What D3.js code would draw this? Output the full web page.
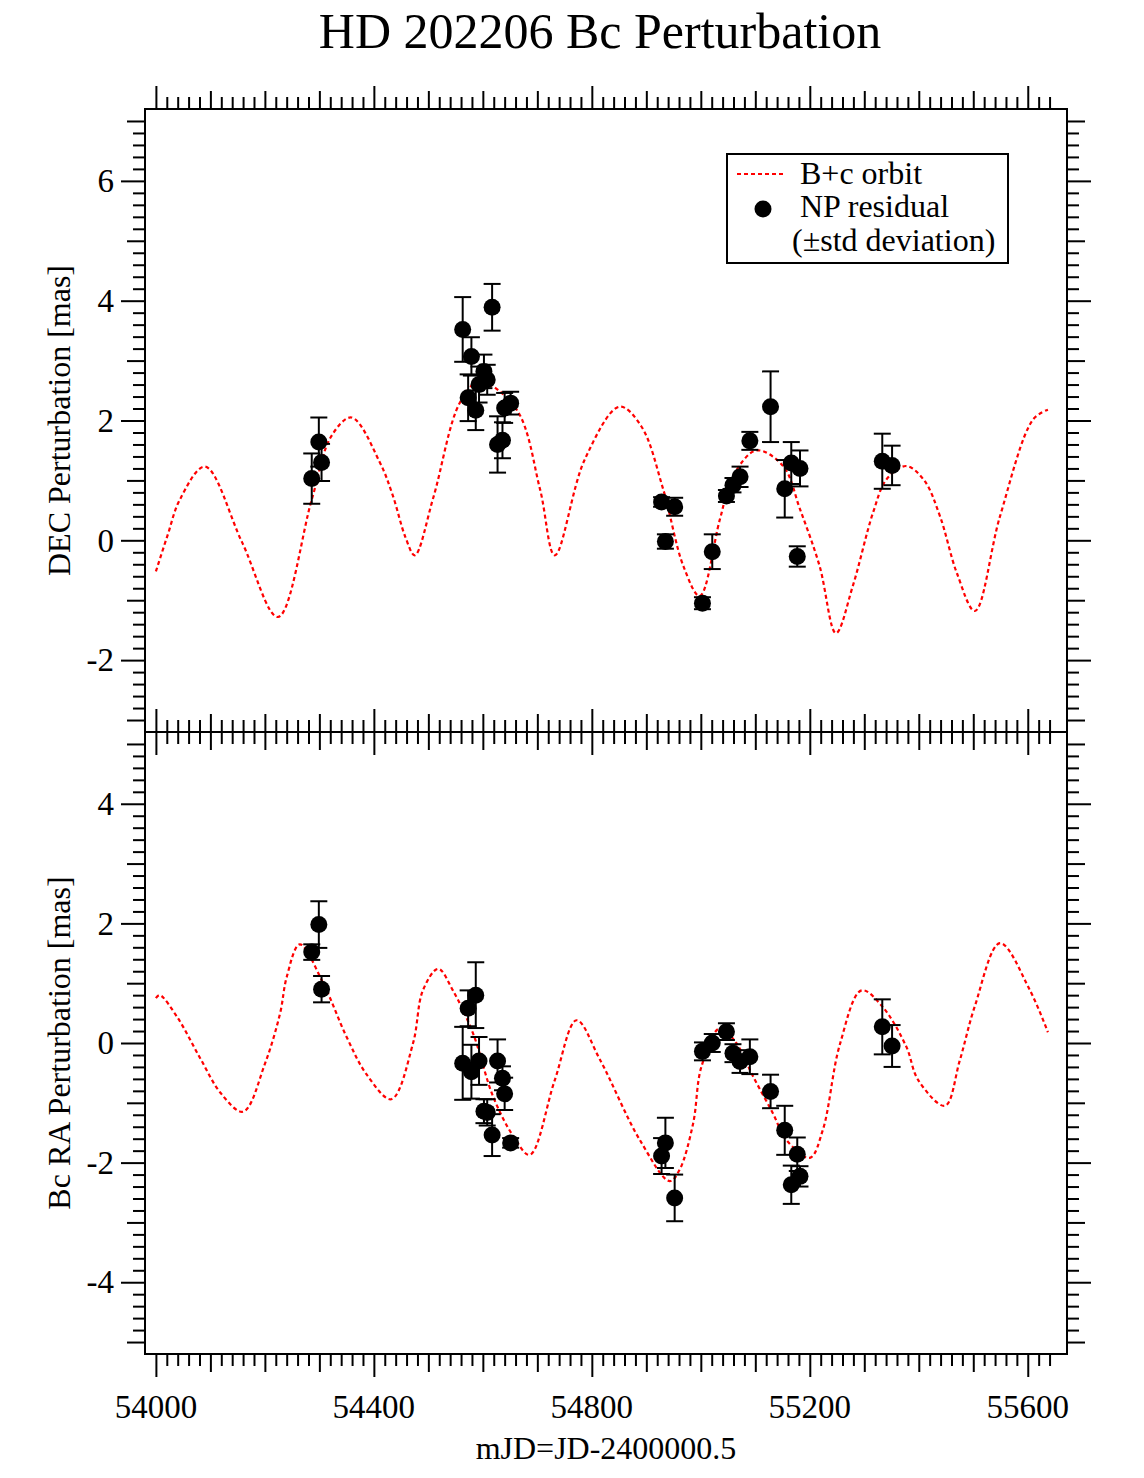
<!DOCTYPE html>
<html>
<head>
<meta charset="utf-8">
<script src="https://cdn.jsdelivr.net/npm/d3@7"></script>
<style>
  body { margin: 0; background: #fff; }
  svg text { font-family: "Liberation Serif", "Times New Roman", serif; fill: #000; }
</style>
</head>
<body>
<div id="chart"></div>
<script>
// epochs of the normal points (mJD)
const mjd = [54286, 54299, 54304,
  54563, 54573, 54579, 54587, 54593, 54602, 54608, 54617, 54627, 54636, 54640, 54651,
  54928, 54935, 54952, 55003, 55021, 55047, 55059, 55072, 55090, 55128, 55154, 55166,
  55177, 55182, 55333, 55351];

// DEC residuals and std deviation [mas]
const decVal = [1.03, 1.64, 1.30,
  3.52, 2.38, 3.07, 2.17, 2.60, 2.82, 2.68, 3.89, 1.60, 1.67, 2.21, 2.29,
  0.64, -0.02, 0.56, -1.05, -0.19, 0.74, 0.92, 1.06, 1.66, 2.23, 0.86, 1.29,
  -0.27, 1.20, 1.32, 1.25];
const decErr = [0.42, 0.41, 0.31,
  0.54, 0.39, 0.32, 0.33, 0.30, 0.28, 0.25, 0.39, 0.47, 0.30, 0.25, 0.19,
  0.08, 0.12, 0.15, 0.10, 0.29, 0.10, 0.12, 0.17, 0.15, 0.59, 0.48, 0.35,
  0.17, 0.30, 0.46, 0.33];

// RA residuals and std deviation [mas]
const raVal = [1.52, 1.98, 0.90,
  -0.34, 0.58, -0.48, 0.80, -0.30, -1.14, -1.16, -1.54, -0.30, -0.59, -0.85, -1.67,
  -1.89, -1.67, -2.59, -0.14, 0.00, 0.19, -0.17, -0.31, -0.23, -0.81, -1.46, -2.37,
  -1.86, -2.23, 0.27, -0.05];
const raErr = [0.13, 0.39, 0.22,
  0.61, 0.30, 0.45, 0.55, 0.40, 0.20, 0.22, 0.35, 0.36, 0.20, 0.27, 0.08,
  0.30, 0.42, 0.39, 0.15, 0.15, 0.14, 0.15, 0.19, 0.29, 0.28, 0.41, 0.32,
  0.28, 0.17, 0.46, 0.35];

// B+c orbit model
const decOrbitX = [54000, 54022, 54044, 54090, 54158, 54224, 54286, 54322, 54359, 54411,
  54435, 54458, 54475, 54509, 54558, 54594, 54662, 54705, 54732, 54787, 54851, 54891,
  54931, 54968, 54998, 55035, 55059, 55102, 55151, 55182, 55218, 55248, 55279, 55316,
  55341, 55377, 55410, 55439, 55470, 55503, 55549, 55610, 55637];
const decOrbitY = [-0.52, 0.10, 0.68, 1.23, -0.03, -1.28, 0.68, 1.74, 2.05, 1.30,
  0.74, 0.05, -0.25, 0.71, 2.30, 2.65, 2.18, 0.85, -0.25, 1.35, 2.23, 1.90,
  0.85, -0.43, -0.93, 0.35, 1.07, 1.50, 1.24, 0.52, -0.43, -1.55, -0.76, 0.46,
  1.02, 1.24, 1.00, 0.40, -0.55, -1.18, 0.40, 2.02, 2.18];

const raOrbitX = [54000, 54007, 54040, 54081, 54120, 54160, 54200, 54228, 54240, 54264,
  54307, 54350, 54387, 54432, 54472, 54490, 54518, 54545, 54582, 54619, 54656, 54686,
  54732, 54772, 54815, 54888, 54943, 54961, 54986, 55001, 55035, 55065, 55096, 55132,
  55157, 55200, 55224, 55255, 55295, 55334, 55377, 55399, 55448, 55475, 55503, 55549,
  55604, 55637];
const raOrbitY = [0.75, 0.80, 0.42, -0.25, -0.85, -1.15, -0.35, 0.50, 1.10, 1.65,
  1.00, 0.10, -0.53, -0.94, 0.00, 0.88, 1.24, 0.88, 0.16, -0.90, -1.56, -1.87,
  -0.62, 0.38, -0.28, -1.62, -2.31, -2.12, -1.34, -0.40, 0.25, 0.00, -0.56, -1.17,
  -1.62, -1.92, -1.45, -0.03, 0.88, 0.60, -0.06, -0.62, -1.05, -0.30, 0.62, 1.67,
  0.88, 0.18];

const xLabels = [54000, 54400, 54800, 55200, 55600];
const decLabels = [-2, 0, 2, 4, 6];
const raLabels = [-4, -2, 0, 2, 4];

const W = 1144, H = 1478;
const left = 145, right = 1067;

const svg = d3.select("#chart").append("svg")
  .attr("width", W)
  .attr("height", H);

svg.append("rect").attr("width", W).attr("height", H).attr("fill", "#fff");

const x = d3.scaleLinear().domain([53980, 55672]).range([left, right]);

// x ticks: minor every 20 d, medium every 100 d, major every 400 d
const xAll = d3.range(0, 83).map((i) => 54000 + i * 20);
const xMinor = xAll.filter((d) => d % 100 !== 0);
const xMid = xAll.filter((d) => d % 100 === 0 && d % 400 !== 0);
const xMaj = xAll.filter((d) => d % 400 === 0);

function drawPanel(opts) {
  const { top, bottom, domain, vals, errs, orbX, orbY, labels, title, xLabelled } = opts;
  const y = d3.scaleLinear().domain(domain).range([bottom, top]);
  const g = svg.append("g");

  // x ticks on top and bottom edges, pointing outward
  const tiers = [[xMinor, 12], [xMid, 18], [xMaj, 23]];
  tiers.forEach(([vals_, size]) => {
    g.append("g")
      .attr("transform", `translate(0,${top})`)
      .call(d3.axisTop(x).tickValues(vals_).tickSize(size).tickFormat(""));
    g.append("g")
      .attr("transform", `translate(0,${bottom})`)
      .call(d3.axisBottom(x).tickValues(vals_).tickSize(size).tickFormat(""));
  });

  // y ticks: minor 0.2, medium 1, major 2
  const lo = Math.ceil(domain[0] * 5 + 1e-6), hi = Math.floor(domain[1] * 5 - 1e-6);
  const yAll = d3.range(lo, hi + 1);
  const yMinor = yAll.filter((i) => i % 5 !== 0).map((i) => i / 5);
  const yMid = yAll.filter((i) => i % 5 === 0 && (i / 5) % 2 !== 0).map((i) => i / 5);
  const yMaj = yAll.filter((i) => i % 10 === 0).map((i) => i / 5);
  [[yMinor, 12], [yMid, 18], [yMaj, 24]].forEach(([vals_, size]) => {
    g.append("g")
      .attr("transform", `translate(${left},0)`)
      .call(d3.axisLeft(y).tickValues(vals_).tickSize(size).tickFormat(""));
    g.append("g")
      .attr("transform", `translate(${right},0)`)
      .call(d3.axisRight(y).tickValues(vals_).tickSize(size).tickFormat(""));
  });

  g.selectAll(".domain").remove();
  g.selectAll(".tick line").attr("stroke", "#000").attr("stroke-width", 2);

  // y tick labels
  g.selectAll(".ylab")
    .data(labels)
    .join("text")
    .attr("class", "ylab")
    .attr("x", left - 31)
    .attr("y", (d) => y(d))
    .attr("dy", "0.34em")
    .attr("text-anchor", "end")
    .attr("font-size", 33)
    .text((d) => d);

  if (xLabelled) {
    g.selectAll(".xlab")
      .data(xLabels)
      .join("text")
      .attr("class", "xlab")
      .attr("x", (d) => x(d))
      .attr("y", bottom + 64)
      .attr("text-anchor", "middle")
      .attr("font-size", 33)
      .text((d) => d);
  }

  // frame
  g.append("rect")
    .attr("x", left)
    .attr("y", top)
    .attr("width", right - left)
    .attr("height", bottom - top)
    .attr("fill", "none")
    .attr("stroke", "#000")
    .attr("stroke-width", 2);

  // axis title
  g.append("text")
    .attr("transform", `translate(70,${(top + bottom) / 2}) rotate(-90)`)
    .attr("text-anchor", "middle")
    .attr("font-size", 32)
    .text(title);

  // model orbit
  const line = d3.line()
    .x((d) => x(d[0]))
    .y((d) => y(d[1]))
    .curve(d3.curveCatmullRom.alpha(0.5));
  g.append("path")
    .datum(d3.zip(orbX, orbY))
    .attr("d", line)
    .attr("fill", "none")
    .attr("stroke", "#ff0000")
    .attr("stroke-width", 2.2)
    .attr("stroke-dasharray", "4,3");

  // error bars
  const pts = mjd.map((d, i) => ({ t: d, v: vals[i], e: errs[i] }));
  const eb = g.selectAll(".err").data(pts).join("g").attr("class", "err")
    .attr("stroke", "#000").attr("stroke-width", 2);
  eb.append("line")
    .attr("x1", (d) => x(d.t)).attr("x2", (d) => x(d.t))
    .attr("y1", (d) => y(d.v - d.e)).attr("y2", (d) => y(d.v + d.e));
  eb.append("line")
    .attr("x1", (d) => x(d.t) - 8.5).attr("x2", (d) => x(d.t) + 8.5)
    .attr("y1", (d) => y(d.v + d.e)).attr("y2", (d) => y(d.v + d.e));
  eb.append("line")
    .attr("x1", (d) => x(d.t) - 8.5).attr("x2", (d) => x(d.t) + 8.5)
    .attr("y1", (d) => y(d.v - d.e)).attr("y2", (d) => y(d.v - d.e));

  g.selectAll(".pt").data(pts).join("circle")
    .attr("class", "pt")
    .attr("cx", (d) => x(d.t))
    .attr("cy", (d) => y(d.v))
    .attr("r", 8.5)
    .attr("fill", "#000");
}

drawPanel({
  top: 109, bottom: 732, domain: [-3.2, 7.2],
  vals: decVal, errs: decErr, orbX: decOrbitX, orbY: decOrbitY,
  labels: decLabels, title: "DEC Perturbation [mas]", xLabelled: false
});

drawPanel({
  top: 732, bottom: 1354, domain: [-5.2, 5.2],
  vals: raVal, errs: raErr, orbX: raOrbitX, orbY: raOrbitY,
  labels: raLabels, title: "Bc RA Perturbation [mas]", xLabelled: true
});

// titles
svg.append("text")
  .attr("x", (left + right) / 2 - 6)
  .attr("y", 48)
  .attr("text-anchor", "middle")
  .attr("font-size", 50)
  .text("HD 202206 Bc Perturbation");

svg.append("text")
  .attr("x", (left + right) / 2)
  .attr("y", 1459)
  .attr("text-anchor", "middle")
  .attr("font-size", 32)
  .text("mJD=JD-2400000.5");

// legend
const lg = svg.append("g");
lg.append("rect")
  .attr("x", 727).attr("y", 154).attr("width", 281).attr("height", 109)
  .attr("fill", "#fff").attr("stroke", "#000").attr("stroke-width", 2);
lg.append("line")
  .attr("x1", 737).attr("x2", 783).attr("y1", 174).attr("y2", 174)
  .attr("stroke", "#ff0000").attr("stroke-width", 2.2).attr("stroke-dasharray", "4,3");
lg.append("circle").attr("cx", 763).attr("cy", 209).attr("r", 8.5).attr("fill", "#000");
lg.append("text").attr("x", 800).attr("y", 184).attr("font-size", 32).text("B+c orbit");
lg.append("text").attr("x", 800).attr("y", 217).attr("font-size", 32).text("NP residual");
lg.append("text").attr("x", 792).attr("y", 251).attr("font-size", 32).text("(±std deviation)");
</script>
</body>
</html>
